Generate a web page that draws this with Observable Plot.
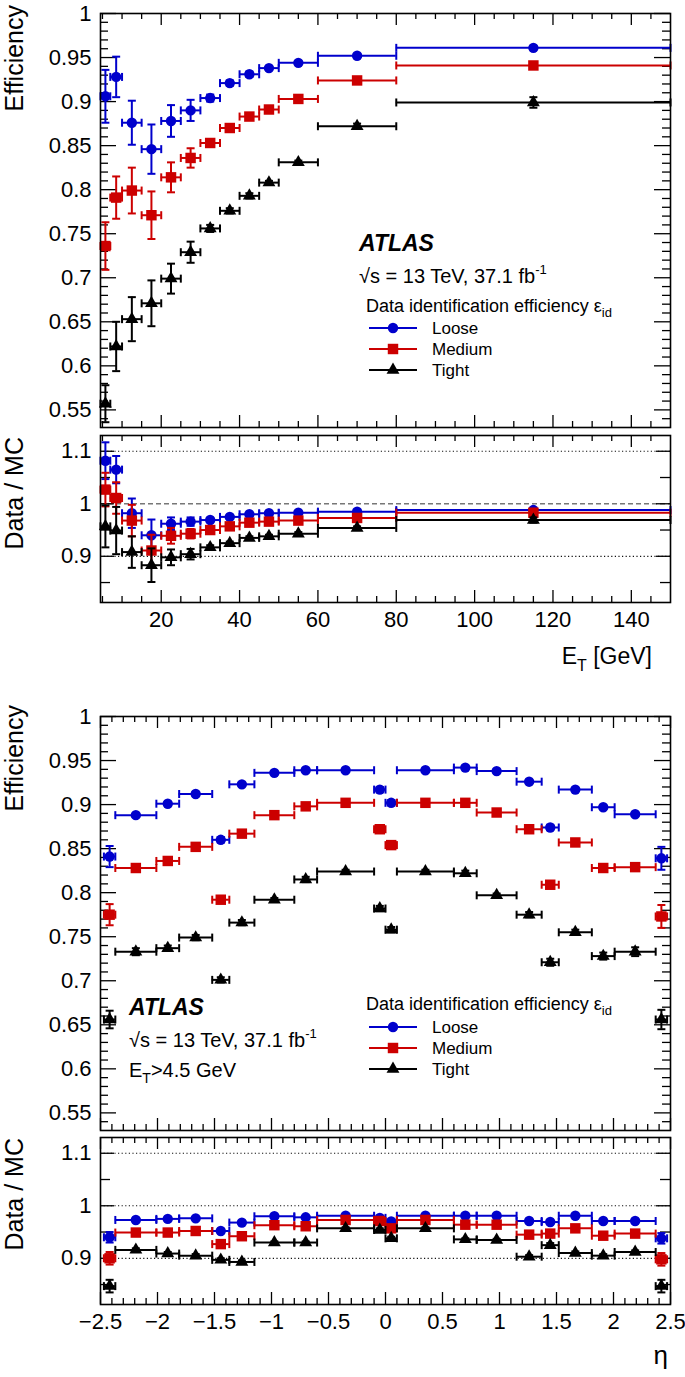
<!DOCTYPE html>
<html><head><meta charset="utf-8">
<script src="https://cdn.jsdelivr.net/npm/d3@7"></script>
<script src="https://cdn.jsdelivr.net/npm/@observablehq/plot@0.6"></script>
<style>
body{margin:0;background:#fff;}
#root{position:relative;width:685px;height:1377px;overflow:hidden;background:#fff;}
#root svg{position:absolute;left:0;}
</style></head><body><div id="root"></div>
<script>
// ---------------- DATA ----------------
const seriesNames = ["Loose", "Medium", "Tight"];

// E_T binning [GeV]
const etLow  = [4.5, 7, 10, 15, 20, 25, 30, 35, 40, 45, 50, 60, 80];
const etHigh = [7, 10, 15, 20, 25, 30, 35, 40, 45, 50, 60, 80, 150];
const etMid  = [5.75, 8.5, 12.5, 17.5, 22.5, 27.5, 32.5, 37.5, 42.5, 47.5, 55, 70, 115];

const etEffLoose     = [0.906, 0.928, 0.876, 0.846, 0.878, 0.890, 0.904, 0.921, 0.931, 0.938, 0.944, 0.952, 0.961];
const etEffLooseErr  = [0.030, 0.023, 0.025, 0.028, 0.018, 0.012, 0.004, 0.003, 0.003, 0.002, 0.002, 0.002, 0.002];
const etEffMedium    = [0.736, 0.791, 0.799, 0.771, 0.814, 0.836, 0.853, 0.870, 0.883, 0.891, 0.903, 0.924, 0.941];
const etEffMediumErr = [0.027, 0.024, 0.026, 0.027, 0.017, 0.011, 0.004, 0.003, 0.003, 0.002, 0.002, 0.002, 0.002];
const etEffTight     = [0.557, 0.622, 0.653, 0.671, 0.699, 0.729, 0.756, 0.776, 0.793, 0.808, 0.831, 0.872, 0.899];
const etEffTightErr  = [0.021, 0.028, 0.025, 0.026, 0.017, 0.012, 0.004, 0.003, 0.003, 0.002, 0.002, 0.003, 0.006];

const etSfLoose      = [1.082, 1.065, 0.982, 0.940, 0.962, 0.966, 0.969, 0.975, 0.980, 0.982, 0.983, 0.985, 0.988];
const etSfLooseErr   = [0.035, 0.026, 0.028, 0.030, 0.012, 0.008, 0.003, 0.003, 0.002, 0.002, 0.002, 0.002, 0.003];
const etSfMedium     = [1.027, 1.011, 0.968, 0.911, 0.939, 0.943, 0.950, 0.957, 0.964, 0.966, 0.968, 0.973, 0.983];
const etSfMediumErr  = [0.032, 0.030, 0.030, 0.030, 0.015, 0.009, 0.003, 0.003, 0.002, 0.002, 0.002, 0.002, 0.003];
const etSfTight      = [0.957, 0.949, 0.908, 0.883, 0.898, 0.904, 0.917, 0.925, 0.935, 0.938, 0.943, 0.954, 0.969];
const etSfTightErr   = [0.040, 0.045, 0.030, 0.032, 0.015, 0.010, 0.004, 0.003, 0.003, 0.003, 0.003, 0.003, 0.005];

// eta binning
const etaLow  = [-2.47, -2.37, -2.01, -1.81, -1.52, -1.37, -1.15, -0.8, -0.6, -0.1, 0, 0.1, 0.6, 0.8, 1.15, 1.37, 1.52, 1.81, 2.01, 2.37];
const etaHigh = [-2.37, -2.01, -1.81, -1.52, -1.37, -1.15, -0.8, -0.6, -0.1, 0, 0.1, 0.6, 0.8, 1.15, 1.37, 1.52, 1.81, 2.01, 2.37, 2.47];
const etaMid  = [-2.42, -2.19, -1.91, -1.665, -1.445, -1.26, -0.975, -0.7, -0.35, -0.05, 0.05, 0.35, 0.7, 0.975, 1.26, 1.445, 1.665, 1.91, 2.19, 2.42];

const etaEffLoose     = [0.841, 0.888, 0.901, 0.912, 0.860, 0.923, 0.936, 0.939, 0.939, 0.917, 0.902, 0.939, 0.942, 0.938, 0.926, 0.874, 0.917, 0.897, 0.889, 0.839];
const etaEffLooseErr  = [0.012, 0.002, 0.002, 0.002, 0.003, 0.002, 0.002, 0.002, 0.002, 0.003, 0.003, 0.002, 0.002, 0.002, 0.002, 0.003, 0.002, 0.002, 0.002, 0.013];
const etaEffMedium    = [0.775, 0.828, 0.836, 0.852, 0.792, 0.867, 0.888, 0.898, 0.902, 0.872, 0.854, 0.902, 0.902, 0.891, 0.872, 0.809, 0.857, 0.828, 0.829, 0.773];
const etaEffMediumErr = [0.012, 0.002, 0.002, 0.002, 0.003, 0.002, 0.002, 0.002, 0.002, 0.003, 0.003, 0.002, 0.002, 0.002, 0.002, 0.003, 0.002, 0.002, 0.002, 0.013];
const etaEffTight     = [0.656, 0.733, 0.737, 0.749, 0.701, 0.766, 0.792, 0.815, 0.824, 0.782, 0.758, 0.824, 0.822, 0.797, 0.775, 0.721, 0.755, 0.728, 0.733, 0.656];
const etaEffTightErr  = [0.010, 0.004, 0.003, 0.003, 0.003, 0.003, 0.002, 0.003, 0.002, 0.003, 0.003, 0.002, 0.003, 0.002, 0.003, 0.004, 0.003, 0.004, 0.005, 0.011];

const etaSfLoose      = [0.940, 0.973, 0.975, 0.976, 0.952, 0.968, 0.980, 0.978, 0.981, 0.977, 0.970, 0.981, 0.981, 0.981, 0.971, 0.969, 0.981, 0.971, 0.971, 0.938];
const etaSfLooseErr   = [0.010, 0.002, 0.002, 0.002, 0.003, 0.002, 0.002, 0.002, 0.002, 0.003, 0.003, 0.002, 0.002, 0.002, 0.002, 0.003, 0.002, 0.002, 0.002, 0.010];
const etaSfMedium     = [0.900, 0.949, 0.949, 0.952, 0.927, 0.942, 0.963, 0.961, 0.973, 0.971, 0.957, 0.973, 0.964, 0.964, 0.945, 0.947, 0.957, 0.943, 0.947, 0.898];
const etaSfMediumErr  = [0.012, 0.002, 0.002, 0.002, 0.003, 0.002, 0.002, 0.002, 0.002, 0.003, 0.003, 0.002, 0.002, 0.002, 0.002, 0.003, 0.002, 0.002, 0.002, 0.012];
const etaSfTight      = [0.847, 0.916, 0.909, 0.905, 0.897, 0.893, 0.930, 0.930, 0.957, 0.954, 0.938, 0.957, 0.936, 0.935, 0.903, 0.925, 0.910, 0.905, 0.912, 0.847];
const etaSfTightErr   = [0.012, 0.003, 0.003, 0.003, 0.003, 0.003, 0.002, 0.002, 0.002, 0.003, 0.003, 0.002, 0.002, 0.002, 0.003, 0.004, 0.003, 0.003, 0.003, 0.012];

// tick labels
const etTickLabels   = [20, 40, 60, 80, 100, 120, 140];
const etaTickLabels  = [-2.5, -2, -1.5, -1, -0.5, 0, 0.5, 1, 1.5, 2, 2.5];
const effTickLabels  = [0.55, 0.6, 0.65, 0.7, 0.75, 0.8, 0.85, 0.9, 0.95, 1];
const ratioTickLabels = [0.9, 1, 1.1];

// ---------------- STYLE / LAYOUT ----------------
const FONT = "'Liberation Sans', Arial, Helvetica, sans-serif";
const W = 685, ML = 100, MR = 15;
const color = {Loose: "#0000cc", Medium: "#cc0000", Tight: "#000000"};
const symbolOf = {Loose: "circle", Medium: "square", Tight: "triangle"};
const radiusOf = {Loose: 5.2, Medium: 5.9, Tight: 4.8};

const vcap = {draw(ctx, size) { const r = Math.sqrt(size / Math.PI); ctx.moveTo(0, -r); ctx.lineTo(0, r); }};
const hcap = {draw(ctx, size) { const r = Math.sqrt(size / Math.PI); ctx.moveTo(-r, 0); ctx.lineTo(r, 0); }};

function rows(low, high, mid, vals, errs, name) {
  return mid.map((m, i) => ({series: name, lo: low[i], hi: high[i], x: m, v: vals[i], e: errs[i]}));
}

function seriesMarks(data, name) {
  const c = color[name];
  return [
    Plot.ruleY(data, {y: "v", x1: "lo", x2: "hi", stroke: c, strokeWidth: 2}),
    Plot.dot(data, {x: "lo", y: "v", symbol: vcap, r: 4, fill: "none", stroke: c, strokeWidth: 2}),
    Plot.dot(data, {x: "hi", y: "v", symbol: vcap, r: 4, fill: "none", stroke: c, strokeWidth: 2}),
    Plot.ruleX(data, {x: "x", y1: d => d.v - d.e, y2: d => d.v + d.e, stroke: c, strokeWidth: 2}),
    Plot.dot(data, {x: "x", y: d => d.v - d.e, symbol: hcap, r: 4, fill: "none", stroke: c, strokeWidth: 2}),
    Plot.dot(data, {x: "x", y: d => d.v + d.e, symbol: hcap, r: 4, fill: "none", stroke: c, strokeWidth: 2}),
    Plot.dot(data, {x: "x", y: "v", symbol: symbolOf[name], r: radiusOf[name], fill: c, stroke: "none"})
  ];
}

function frameTicks(xd, yd, w, h, t) {
  const dy = px => px * (yd[1] - yd[0]) / h;
  const dx = px => px * (xd[1] - xd[0]) / w;
  const s = {stroke: "black", strokeWidth: 1.3};
  const out = [];
  for (const [list, len] of [[t.xMajor, t.xMaj], [t.xMinor, t.xMin]]) {
    out.push(Plot.ruleX(list, {x: d => d, y1: yd[0], y2: yd[0] + dy(len), ...s}));
    out.push(Plot.ruleX(list, {x: d => d, y1: yd[1], y2: yd[1] - dy(len), ...s}));
  }
  for (const [list, len] of [[t.yMajor, t.yMaj], [t.yMinor, t.yMin]]) {
    out.push(Plot.ruleY(list, {y: d => d, x1: xd[0], x2: xd[0] + dx(len), ...s}));
    out.push(Plot.ruleY(list, {y: d => d, x1: xd[1], x2: xd[1] - dx(len), ...s}));
  }
  return out;
}

const fmtNum = d => (d < 0 ? "\u2212" : "") + String(+Math.abs(d).toFixed(2));

function panel(p) {
  const w = W - ML - MR, h = p.height - p.mt - p.mb;
  const marks = [
    ...(p.refs || []),
    ...frameTicks(p.xDomain, p.yDomain, w, h, p.ticks),
    ...p.series.flatMap(([data, name]) => seriesMarks(data, name)),
    Plot.frame({stroke: "black", strokeWidth: 1.6}),
    Plot.axisY({ticks: p.yLabels, tickSize: 0, tickPadding: 9, tickFormat: fmtNum, label: null, fontSize: 22})
  ];
  if (p.xLabels) marks.push(Plot.axisX({ticks: p.xLabels, tickSize: 0, tickPadding: 9, tickFormat: fmtNum, label: null, fontSize: 22}));
  const svg = Plot.plot({
    width: W, height: p.height,
    marginTop: p.mt, marginBottom: p.mb, marginLeft: ML, marginRight: MR,
    x: p.xLabels ? {domain: p.xDomain} : {domain: p.xDomain, axis: null},
    y: {domain: p.yDomain},
    style: {fontFamily: FONT, fontSize: "22px", background: "transparent", color: "black", overflow: "visible"},
    marks
  });
  svg.style.top = p.top + "px";
  document.getElementById("root").appendChild(svg);
}

const effDomain = [0.53, 1.0];
const ratioDomain = [0.812, 1.13];
const etDomain = [4.5, 150];
const etaDomain = [-2.5, 2.5];

const dotted = {stroke: "#111", strokeWidth: 1.2, strokeDasharray: "1.2,2.4"};
const dashed = {stroke: "#777", strokeWidth: 1.5, strokeDasharray: "5,3"};

const etTicks = {xMajor: etTickLabels, xMinor: d3.range(5, 150, 5).filter(v => v % 20 !== 0), xMaj: 12, xMin: 6};
const etaTicks = {xMajor: etaTickLabels, xMinor: d3.range(-24, 25, 1).map(v => v / 10).filter(v => Math.abs(v * 2 - Math.round(v * 2)) > 1e-6), xMaj: 12, xMin: 6};
const effYTicks = {yMajor: effTickLabels, yMinor: d3.range(54, 100, 1).map(v => v / 100).filter(v => Math.round(v * 100) % 5 !== 0), yMaj: 16, yMin: 8};
const ratioYTicks = {yMajor: ratioTickLabels, yMinor: [0.85, 0.95, 1.05], yMaj: 14, yMin: 10};

// Panel 1: efficiency vs E_T
panel({top: 0, height: 432, mt: 13, mb: 5, xDomain: etDomain, yDomain: effDomain,
  ticks: {...etTicks, ...effYTicks}, yLabels: effTickLabels,
  series: [
    [rows(etLow, etHigh, etMid, etEffLoose, etEffLooseErr, "Loose"), "Loose"],
    [rows(etLow, etHigh, etMid, etEffMedium, etEffMediumErr, "Medium"), "Medium"],
    [rows(etLow, etHigh, etMid, etEffTight, etEffTightErr, "Tight"), "Tight"]
  ]});

// Panel 2: ratio vs E_T
panel({top: 430, height: 250, mt: 5, mb: 78, xDomain: etDomain, yDomain: ratioDomain,
  ticks: {...etTicks, ...ratioYTicks}, yLabels: ratioTickLabels, xLabels: etTickLabels,
  refs: [Plot.ruleY([0.9, 1.1], dotted), Plot.ruleY([1], dashed)],
  series: [
    [rows(etLow, etHigh, etMid, etSfLoose, etSfLooseErr, "Loose"), "Loose"],
    [rows(etLow, etHigh, etMid, etSfMedium, etSfMediumErr, "Medium"), "Medium"],
    [rows(etLow, etHigh, etMid, etSfTight, etSfTightErr, "Tight"), "Tight"]
  ]});

// Panel 3: efficiency vs eta
panel({top: 700, height: 432, mt: 16, mb: 2, xDomain: etaDomain, yDomain: effDomain,
  ticks: {...etaTicks, ...effYTicks}, yLabels: effTickLabels,
  series: [
    [rows(etaLow, etaHigh, etaMid, etaEffLoose, etaEffLooseErr, "Loose"), "Loose"],
    [rows(etaLow, etaHigh, etaMid, etaEffMedium, etaEffMediumErr, "Medium"), "Medium"],
    [rows(etaLow, etaHigh, etaMid, etaEffTight, etaEffTightErr, "Tight"), "Tight"]
  ]});

// Panel 4: ratio vs eta
panel({top: 1132, height: 245, mt: 5, mb: 73, xDomain: etaDomain, yDomain: ratioDomain,
  ticks: {...etaTicks, ...ratioYTicks}, yLabels: ratioTickLabels, xLabels: etaTickLabels,
  refs: [Plot.ruleY([0.9, 1, 1.1], dotted)],
  series: [
    [rows(etaLow, etaHigh, etaMid, etaSfLoose, etaSfLooseErr, "Loose"), "Loose"],
    [rows(etaLow, etaHigh, etaMid, etaSfMedium, etaSfMediumErr, "Medium"), "Medium"],
    [rows(etaLow, etaHigh, etaMid, etaSfTight, etaSfTightErr, "Tight"), "Tight"]
  ]});

// ---------------- TEXT OVERLAY ----------------
const ov = d3.select("#root").append("svg")
  .attr("width", 685).attr("height", 1377)
  .style("top", "0px").style("pointer-events", "none")
  .attr("font-family", FONT).attr("fill", "black");

function rich(x, y, parts, size, opts = {}) {
  const t = ov.append("text").attr("x", x).attr("y", y).attr("font-size", size)
    .attr("text-anchor", opts.anchor || "start");
  if (opts.rotate) t.attr("transform", `rotate(${opts.rotate},${x},${y})`);
  if (opts.weight) t.attr("font-weight", opts.weight);
  if (opts.style) t.attr("font-style", opts.style);
  let shift = 0;
  for (const p of parts) {
    const o = typeof p === "string" ? {t: p} : p;
    const target = o.dy || 0;
    t.append("tspan").attr("dy", target - shift).attr("font-size", o.size || size).text(o.t);
    shift = target;
  }
  return t;
}

// axis titles
rich(23, 5, ["Efficiency"], 25, {anchor: "end", rotate: -90});
rich(23, 437, ["Data / MC"], 25, {anchor: "end", rotate: -90});
rich(652, 664, ["E", {t: "T", size: 16, dy: 7}, " [GeV]"], 23, {anchor: "end"});
rich(23, 705, ["Efficiency"], 25, {anchor: "end", rotate: -90});
rich(23, 1138, ["Data / MC"], 25, {anchor: "end", rotate: -90});
rich(668, 1364, ["\u03b7"], 26, {anchor: "end"});

// ATLAS labels
rich(359, 251, ["ATLAS"], 23, {weight: "bold", style: "italic"});
rich(359, 283, ["\u221as = 13 TeV, 37.1 fb", {t: "-1", size: 13, dy: -9}], 20);
rich(129, 1015, ["ATLAS"], 23, {weight: "bold", style: "italic"});
rich(129, 1047, ["\u221as = 13 TeV, 37.1 fb", {t: "-1", size: 13, dy: -9}], 20);
rich(129, 1077, ["E", {t: "T", size: 14, dy: 6}, ">4.5 GeV"], 20);

// legends
function legend(headerY, entryYs) {
  rich(366, headerY, ["Data identification efficiency \u03b5", {t: "id", size: 13, dy: 5}], 18);
  seriesNames.forEach((name, i) => {
    const y = entryYs[i];
    ov.append("line").attr("x1", 369).attr("x2", 417).attr("y1", y).attr("y2", y)
      .attr("stroke", color[name]).attr("stroke-width", 2);
    const sym = {circle: d3.symbolCircle, square: d3.symbolSquare, triangle: d3.symbolTriangle}[symbolOf[name]];
    ov.append("path").attr("d", d3.symbol(sym, Math.PI * radiusOf[name] ** 2)())
      .attr("transform", `translate(393,${y})`).attr("fill", color[name]);
    rich(432, y + 6, [name], 17);
  });
}
legend(312, [328, 349, 370]);
legend(1010, [1027, 1048, 1069]);
</script></body></html>
